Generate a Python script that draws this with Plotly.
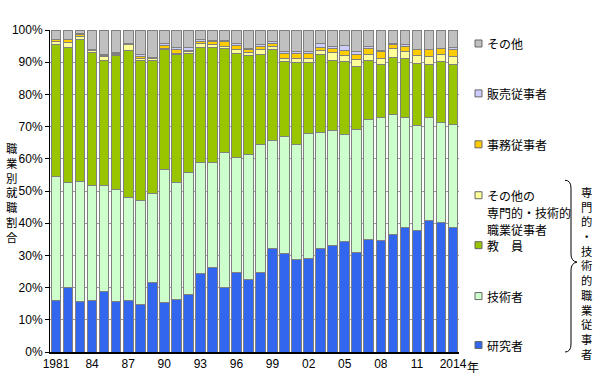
import plotly.graph_objects as go

years = list(range(1981, 2015))
researcher = [16.0, 20.1, 15.8, 15.9, 18.9, 15.6, 15.9, 14.8, 21.5, 15.5, 16.2, 17.8, 24.5, 26.2, 19.9,
              24.6, 22.4, 24.8, 32.2, 30.6, 28.6, 29.1, 32.2, 33.1, 34.2, 31.0, 35.0, 34.5, 36.6, 38.7,
              37.8, 40.9, 40.1, 38.6]
engineer = [38.4, 32.4, 37.2, 35.8, 32.9, 34.9, 32.2, 32.3, 27.7, 41.3, 36.5, 37.8, 34.3, 32.7, 42.0,
            35.9, 39.0, 39.6, 33.5, 36.2, 35.8, 38.7, 36.1, 35.7, 33.3, 38.0, 37.1, 38.4, 37.3, 34.0,
            32.5, 31.8, 31.2, 32.1]
teacher = [41.1, 42.2, 44.0, 41.4, 38.6, 41.5, 45.6, 43.4, 41.2, 37.0, 39.6, 37.2, 35.9, 35.8, 32.5,
           32.1, 30.8, 27.9, 28.1, 23.3, 25.5, 22.0, 24.0, 21.6, 22.6, 19.6, 18.3, 16.5, 17.6, 18.6,
           19.2, 16.6, 18.9, 18.6]
other_prof = [1.0, 1.3, 0.9, 0.5, 1.3, 0.5, 1.8, 0.7, 0.6, 0.4, 0.5, 0.6, 1.2, 0.8, 0.6,
              1.4, 0.8, 1.7, 1.1, 1.0, 1.4, 1.3, 1.3, 2.5, 2.1, 2.2, 2.1, 1.8, 2.8, 2.0,
              2.5, 2.6, 2.2, 2.5]
clerical = [0.4, 0.9, 0.6, 0.3, 0.3, 0.2, 0.2, 0.5, 0.3, 1.1, 1.1, 0.3, 0.5, 0.9, 1.4,
            1.3, 1.0, 0.9, 0.8, 1.5, 1.3, 1.5, 1.0, 1.4, 1.4, 1.6, 1.7, 2.1, 1.1, 1.5,
            1.8, 1.9, 1.8, 2.0]
sales = [0.3, 0.3, 0.3, 0.2, 0.5, 0.2, 0.2, 0.7, 0.3, 0.5, 0.6, 0.8, 0.5, 0.3, 0.3,
         0.6, 0.4, 0.5, 0.8, 0.8, 0.6, 0.8, 1.1, 0.7, 1.6, 0.8, 0.8, 0.3, 0.4, 0.6,
         0.3, 0.3, 0.2, 0.8]
others = [2.8, 2.8, 1.2, 5.9, 7.5, 7.1, 4.1, 7.6, 8.4, 4.2, 5.5, 5.5, 3.1, 3.3, 3.3,
          4.1, 5.6, 4.6, 3.5, 6.6, 6.8, 6.6, 4.3, 5.0, 4.8, 6.8, 5.0, 6.4, 4.2, 4.6,
          5.9, 5.9, 5.6, 5.4]

series_names = ["研究者", "技術者", "教　員", "その他の専門的・技術的職業従事者", "事務従事者", "販売従事者", "その他"]
series_values = [researcher, engineer, teacher, other_prof, clerical, sales, others]
colors = ["#3366EE", "#CCFFCC", "#99C400", "#FFFF99", "#FFCC00", "#CCCCFF", "#C0C0C0"]

tick_years = [1981, 1984, 1987, 1990, 1993, 1996, 1999, 2002, 2005, 2008, 2011, 2014]
tick_text = ["1981", "84", "87", "90", "93", "96", "99", "02", "05", "08", "11", "2014"]

FONT = "Noto Sans CJK JP"
W, H = 600, 388
L, R, T, B = 50, 459, 29.5, 352

fig = go.Figure()
for name, vals, col in zip(series_names, series_values, colors):
    fig.add_trace(go.Bar(x=years, y=vals, name=name, marker=dict(color=col, line=dict(color="#808080", width=1)),
                         showlegend=False))

def px(x):
    return (x - L) / (R - L)

def py(y):
    return (B - y) / (B - T)

ann = []
shapes = []
# legend
legend_items = [
    (6, ["その他"], 43),
    (5, ["販売従事者"], 93),
    (4, ["事務従事者"], 144),
    (3, ["その他の", "専門的・技術的", "職業従事者"], 195),
    (2, ["教　員"], 245),
    (1, ["技術者"], 296),
    (0, ["研究者"], 345),
]
for idx, lines, yc in legend_items:
    shapes.append(dict(type="rect", xref="paper", yref="paper",
                       x0=px(475), x1=px(482), y0=py(yc + 3.5), y1=py(yc - 3.5),
                       fillcolor=colors[idx], line=dict(color="#666666", width=1)))
    for k, line in enumerate(lines):
        ann.append(dict(text=line, xref="paper", yref="paper", x=px(485), y=py(yc + k * 17),
                        xanchor="left", yanchor="middle", showarrow=False, height=16,
                        font=dict(family=FONT, size=12, color="#000000")))

# bracket
def P(x, y):
    return f"{px(x):.5f},{py(y):.5f}"
path = ("M " + P(565, 180) + " Q " + P(571, 180) + " " + P(571, 188) +
        " L " + P(571, 254) + " Q " + P(571, 261) + " " + P(577, 262) +
        " Q " + P(571, 263) + " " + P(571, 270) +
        " L " + P(571, 344) + " Q " + P(571, 352) + " " + P(565, 352))
shapes.append(dict(type="path", xref="paper", yref="paper", path=path, line=dict(color="#000000", width=1)))

right_label = "専門的・技術的職業従事者"
ann.append(dict(text="<br>".join(right_label), xref="paper", yref="paper", x=px(586), y=py(273),
                xanchor="center", yanchor="middle", showarrow=False, align="center",
                font=dict(family=FONT, size=11.3, color="#000000")))

y_title = "職業別就職割合"
ann.append(dict(text="<br>".join(y_title), xref="paper", yref="paper", x=px(12), y=py(192.5),
                xanchor="center", yanchor="middle", showarrow=False, align="center",
                font=dict(family=FONT, size=11.4, color="#000000")))

ann.append(dict(text="年", xref="paper", yref="paper", x=px(465), y=py(366),
                xanchor="left", yanchor="middle", showarrow=False, height=16,
                font=dict(family=FONT, size=12, color="#000000")))

fig.update_layout(
    barmode="stack", bargap=0.2,
    width=W, height=H,
    margin=dict(l=L, r=W - R, t=T, b=H - B),
    plot_bgcolor="white", paper_bgcolor="white",
    font=dict(family="Liberation Sans, Arial", size=12, color="#000000"),
    xaxis=dict(range=[1980.5, 2014.5], tickmode="array", tickvals=tick_years, ticktext=tick_text,
               showline=True, linecolor="#000000", linewidth=1.5, ticks="", showgrid=False,
               tickfont=dict(size=12), zeroline=False),
    yaxis=dict(range=[0, 100], dtick=10, ticksuffix="%", showline=True, linecolor="#000000", linewidth=1,
               ticks="outside", ticklen=4, tickcolor="#000000", gridcolor="#999999", gridwidth=1,
               zeroline=False, tickfont=dict(size=12)),
    annotations=ann, shapes=shapes,
)

fig.write_html("out.html", config={"displayModeBar": False},
               post_script="document.body.style.margin='0';document.body.style.overflow='hidden';")
